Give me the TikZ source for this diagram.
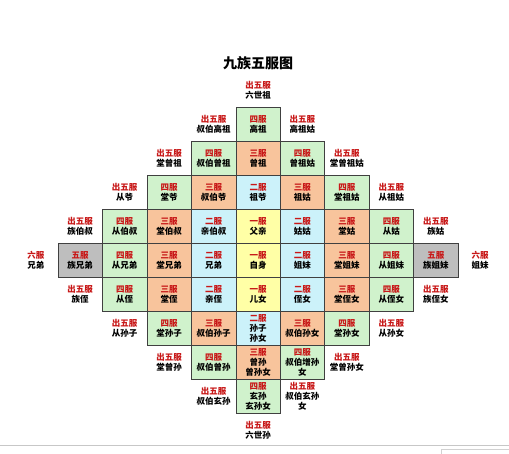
\documentclass[tikz,border=0pt]{standalone}
\usepackage{fontspec}
\setmainfont{Noto Sans CJK SC}
\definecolor{fured}{RGB}{200,24,24}
\definecolor{gfour}{RGB}{208,242,204}
\definecolor{othree}{RGB}{248,196,156}
\definecolor{btwo}{RGB}{204,242,250}
\definecolor{yone}{RGB}{255,255,166}
\definecolor{gfive}{RGB}{190,190,190}
\newcommand\cellfont{\fontsize{8.5}{10}\selectfont\bfseries}
\newcommand\gr[1]{\textcolor{fured}{#1}}
\tikzset{
  cellbox/.style={draw=black!75, line width=0.5pt, minimum width=44.444pt,
    minimum height=34pt, inner sep=0pt, outer sep=0pt, align=center, font=\cellfont},
  outlabel/.style={inner sep=0pt, align=center, font=\cellfont},
}
% name, col, row, fill, grade, text
\newcommand\kcell[6]{\node[cellbox,fill=#4] (#1) at ({58+44.444*(#2+0.5)},{107+34*(#3+0.5)}) {\gr{#5}\\#6};}
% name, col, row, grade, text
\newcommand\olab[5]{\node[outlabel] (#1) at ({58+44.444*(#2+0.5)},{107+34*(#3+0.5)}) {\gr{#4}\\#5};}
\begin{document}
\begin{tikzpicture}[x=1pt,y=-1pt]
\useasboundingbox[fill=white] (0,0) rectangle (509,454);
\node[font=\fontsize{14}{14}\selectfont\bfseries] (title) at (258,63) {九族五服图};
% row -1
\olab{otop}{4}{-1}{出五服}{六世祖}
% row 0
\olab{oa3}{3}{0}{出五服}{叔伯高祖}
\kcell{ka4}{4}{0}{gfour}{四服}{高祖}
\olab{oa5}{5}{0}{出五服}{高祖姑}
% row 1
\olab{ob2}{2}{1}{出五服}{堂曾祖}
\kcell{kb3}{3}{1}{gfour}{四服}{叔伯曾祖}
\kcell{kb4}{4}{1}{othree}{三服}{曾祖}
\kcell{kb5}{5}{1}{gfour}{四服}{曾祖姑}
\olab{ob6}{6}{1}{出五服}{堂曾祖姑}
% row 2
\olab{oc1}{1}{2}{出五服}{从爷}
\kcell{kc2}{2}{2}{gfour}{四服}{堂爷}
\kcell{kc3}{3}{2}{othree}{三服}{叔伯爷}
\kcell{kc4}{4}{2}{btwo}{二服}{祖爷}
\kcell{kc5}{5}{2}{othree}{三服}{祖姑}
\kcell{kc6}{6}{2}{gfour}{四服}{堂祖姑}
\olab{oc7}{7}{2}{出五服}{从祖姑}
% row 3
\olab{od0}{0}{3}{出五服}{族伯叔}
\kcell{kd1}{1}{3}{gfour}{四服}{从伯叔}
\kcell{kd2}{2}{3}{othree}{三服}{堂伯叔}
\kcell{kd3}{3}{3}{btwo}{二服}{亲伯叔}
\kcell{kd4}{4}{3}{yone}{一服}{父亲}
\kcell{kd5}{5}{3}{btwo}{二服}{姑姑}
\kcell{kd6}{6}{3}{othree}{三服}{堂姑}
\kcell{kd7}{7}{3}{gfour}{四服}{从姑}
\olab{od8}{8}{3}{出五服}{族姑}
% row 4
\olab{oel}{-1}{4}{六服}{兄弟}
\kcell{ke0}{0}{4}{gfive}{五服}{族兄弟}
\kcell{ke1}{1}{4}{gfour}{四服}{从兄弟}
\kcell{ke2}{2}{4}{othree}{三服}{堂兄弟}
\kcell{ke3}{3}{4}{btwo}{二服}{兄弟}
\kcell{ke4}{4}{4}{yone}{一服}{自身}
\kcell{ke5}{5}{4}{btwo}{二服}{姐妹}
\kcell{ke6}{6}{4}{othree}{三服}{堂姐妹}
\kcell{ke7}{7}{4}{gfour}{四服}{从姐妹}
\kcell{ke8}{8}{4}{gfive}{五服}{族姐妹}
\olab{oer}{9}{4}{六服}{姐妹}
% row 5
\olab{of0}{0}{5}{出五服}{族侄}
\kcell{kf1}{1}{5}{gfour}{四服}{从侄}
\kcell{kf2}{2}{5}{othree}{三服}{堂侄}
\kcell{kf3}{3}{5}{btwo}{二服}{亲侄}
\kcell{kf4}{4}{5}{yone}{一服}{儿女}
\kcell{kf5}{5}{5}{btwo}{二服}{侄女}
\kcell{kf6}{6}{5}{othree}{三服}{堂侄女}
\kcell{kf7}{7}{5}{gfour}{四服}{从侄女}
\olab{of8}{8}{5}{出五服}{族侄女}
% row 6
\olab{og1}{1}{6}{出五服}{从孙子}
\kcell{kg2}{2}{6}{gfour}{四服}{堂孙子}
\kcell{kg3}{3}{6}{othree}{三服}{叔伯孙子}
\kcell{kg4}{4}{6}{btwo}{二服}{孙子\\孙女}
\kcell{kg5}{5}{6}{othree}{三服}{叔伯孙女}
\kcell{kg6}{6}{6}{gfour}{四服}{堂孙女}
\olab{og7}{7}{6}{出五服}{从孙女}
% row 7
\olab{oh2}{2}{7}{出五服}{堂曾孙}
\kcell{kh3}{3}{7}{gfour}{四服}{叔伯曾孙}
\kcell{kh4}{4}{7}{othree}{三服}{曾孙\\曾孙女}
\kcell{kh5}{5}{7}{gfour}{四服}{叔伯增孙\\女}
\olab{oh6}{6}{7}{出五服}{堂曾孙女}
% row 8
\olab{oi3}{3}{8}{出五服}{叔伯玄孙}
\kcell{ki4}{4}{8}{gfour}{四服}{玄孙\\玄孙女}
\olab{oi5}{5}{8}{出五服}{叔伯玄孙\\女}
% row 9
\olab{obot}{4}{9}{出五服}{六世孙}
% page rule at the bottom
\coordinate (rl) at (0,445);
\coordinate (rr) at (509,445);
\draw[black!22, line width=0.8pt] (rl) -- (rr);
\coordinate (ba) at (441,454);
\coordinate (bb) at (441,449);
\coordinate (bc) at (509,449);
\draw[black!18, line width=0.5pt] (ba) -- (bb) -- (bc);
\end{tikzpicture}
\end{document}
